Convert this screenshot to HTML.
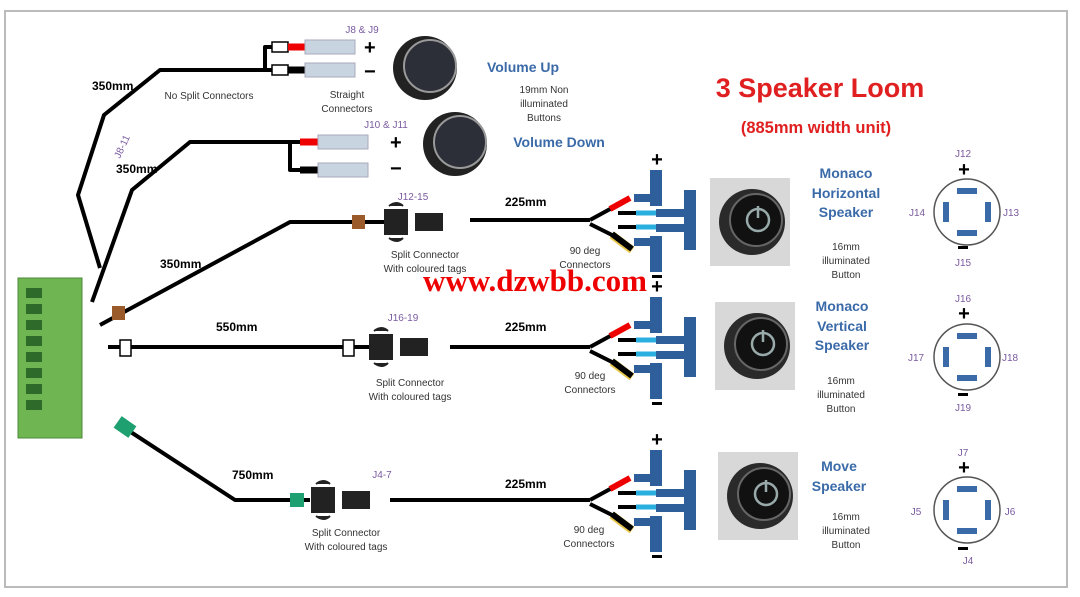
<!DOCTYPE html>
<html><head><meta charset="utf-8"><style>
body{margin:0;background:#fff;}
svg{display:block;font-family:"Liberation Sans",sans-serif;}
</style></head><body>
<svg width="1080" height="597" viewBox="0 0 1080 597" xmlns="http://www.w3.org/2000/svg">
<defs>
<g id="fan">
 <line x1="-10" y1="0" x2="12" y2="0" stroke="#000" stroke-width="4"/>
 <line x1="12" y1="0" x2="34" y2="-12" stroke="#000" stroke-width="4"/>
 <line x1="32" y1="-11" x2="52" y2="-22" stroke="#e00" stroke-width="6"/>
 <line x1="40" y1="-7" x2="58" y2="-7" stroke="#000" stroke-width="4"/>
 <line x1="58" y1="-7" x2="80" y2="-7" stroke="#2ab0e0" stroke-width="5"/>
 <line x1="40" y1="7" x2="58" y2="7" stroke="#000" stroke-width="4"/>
 <line x1="58" y1="7" x2="80" y2="7" stroke="#2ab0e0" stroke-width="5"/>
 <line x1="12" y1="4" x2="34" y2="15" stroke="#000" stroke-width="4"/>
 <line x1="34" y1="15" x2="54" y2="30" stroke="#e8c84a" stroke-width="8"/>
 <line x1="34" y1="14" x2="54" y2="29" stroke="#000" stroke-width="6"/>
 <g fill="#2f5f9a">
  <rect x="72" y="-50" width="12" height="36"/><rect x="56" y="-26" width="28" height="8"/>
  <rect x="106" y="-30" width="12" height="60"/><rect x="78" y="-11" width="40" height="8"/><rect x="78" y="4" width="40" height="8"/>
  <rect x="72" y="16" width="12" height="36"/><rect x="56" y="18" width="28" height="8"/>
 </g>
 <text x="79" y="-54" font-size="20" font-weight="bold" text-anchor="middle">+</text>
 <rect x="74" y="55" width="10" height="3" fill="#000"/>
</g>
<g id="btn">
 <rect x="0" y="0" width="80" height="88" fill="#d8d8d8"/>
 <circle cx="42" cy="44" r="33" fill="#2a2a2a"/>
 <circle cx="46" cy="42" r="26" fill="#111" stroke="#666" stroke-width="2"/>
 <circle cx="48" cy="42" r="11" fill="none" stroke="#9aa" stroke-width="2.5"/>
 <line x1="48" y1="28" x2="48" y2="40" stroke="#9aa" stroke-width="2.5"/>
</g>
<g id="pin">
 <circle cx="0" cy="0" r="33" fill="#fff" stroke="#555" stroke-width="1.5"/>
 <g fill="#3a6aa8"><rect x="-10" y="-24" width="20" height="6"/><rect x="-10" y="18" width="20" height="6"/><rect x="-24" y="-10" width="6" height="20"/><rect x="18" y="-10" width="6" height="20"/></g>
</g>
<g id="spl">
 <path d="M0 -12 h22 v24 h-22z M4 -16 q8 -6 14 0 M4 16 q8 6 14 0" fill="#222" stroke="#222" stroke-width="2"/>
 <rect x="30" y="-9" width="28" height="18" fill="#222"/>
</g>
</defs>
<rect x="5" y="11" width="1062" height="576" fill="#fff" stroke="#bbb" stroke-width="2"/>

<rect x="18" y="278" width="64" height="160" fill="#6fb552" stroke="#4d8a3a"/>
<g fill="#2e6b2a">
 <rect x="26" y="288" width="16" height="10"/><rect x="26" y="304" width="16" height="10"/><rect x="26" y="320" width="16" height="10"/><rect x="26" y="336" width="16" height="10"/><rect x="26" y="352" width="16" height="10"/><rect x="26" y="368" width="16" height="10"/><rect x="26" y="384" width="16" height="10"/><rect x="26" y="400" width="16" height="10"/>
</g>

<g fill="none" stroke="#000" stroke-width="4" stroke-linejoin="round">
 <polyline points="100,268 78,195 104,115 160,70 272,70"/>
 <polyline points="265,70 265,47 275,47"/>
 <polyline points="92,302 132,190 190,142 300,142"/>
 <polyline points="290,142 290,170 300,170"/>
 <polyline points="100,325 290,222 385,222"/>
 <line x1="470" y1="220" x2="582" y2="220"/>
 <line x1="108" y1="347" x2="370" y2="347"/>
 <line x1="450" y1="347" x2="582" y2="347"/>
 <polyline points="120,425 235,500 310,500"/>
 <line x1="390" y1="500" x2="582" y2="500"/>
</g>
<g fill="#fff" stroke="#000" stroke-width="1.5">
 <rect x="272" y="42" width="16" height="10"/><rect x="272" y="65" width="16" height="10"/>
 <rect x="120" y="340" width="11" height="16"/><rect x="343" y="340" width="11" height="16"/>
</g>
<rect x="352" y="215" width="13" height="14" fill="#9a5a2a"/>
<rect x="112" y="306" width="13" height="14" fill="#9a5a2a"/>
<rect x="290" y="493" width="14" height="14" fill="#1ea070"/>
<rect x="116" y="420" width="18" height="14" fill="#1ea070" transform="rotate(35 125 427)"/>
<line x1="288" y1="47" x2="305" y2="47" stroke="#e00" stroke-width="7"/>
<line x1="288" y1="70" x2="305" y2="70" stroke="#000" stroke-width="7"/>
<line x1="300" y1="142" x2="318" y2="142" stroke="#e00" stroke-width="7"/>
<line x1="300" y1="170" x2="318" y2="170" stroke="#000" stroke-width="7"/>
<g fill="#c8d4e0" stroke="#aab"><rect x="305" y="40" width="50" height="14"/><rect x="305" y="63" width="50" height="14"/><rect x="318" y="135" width="50" height="14"/><rect x="318" y="163" width="50" height="14"/></g>
<g font-size="20" font-weight="bold"><text x="364" y="54">+</text><text x="364" y="78">−</text><text x="390" y="149">+</text><text x="390" y="175">−</text></g>
<circle cx="425" cy="68" r="32" fill="#222"/><circle cx="430" cy="66" r="26" fill="#2c2f38" stroke="#999" stroke-width="2"/>
<circle cx="455" cy="144" r="32" fill="#222"/><circle cx="460" cy="142" r="26" fill="#2c2f38" stroke="#999" stroke-width="2"/>

<use href="#spl" x="385" y="222"/>
<use href="#spl" x="370" y="347"/>
<use href="#spl" x="312" y="500"/>

<use href="#fan" x="578" y="220"/>
<use href="#fan" x="578" y="347"/>
<use href="#fan" x="578" y="500"/>

<use href="#btn" x="710" y="178"/>
<use href="#btn" x="715" y="302"/>
<use href="#btn" x="718" y="452"/>

<use href="#pin" x="967" y="212"/>
<use href="#pin" x="967" y="357"/>
<use href="#pin" x="967" y="510"/>

<g font-size="12" font-weight="bold">
 <text x="92" y="90">350mm</text><text x="116" y="173">350mm</text><text x="160" y="268">350mm</text>
 <text x="216" y="331">550mm</text><text x="232" y="479">750mm</text>
 <text x="505" y="206">225mm</text><text x="505" y="331">225mm</text><text x="505" y="488">225mm</text>
</g>
<g font-size="10" fill="#333" text-anchor="middle">
 <text x="209" y="99">No Split Connectors</text>
 <text x="347" y="98">Straight</text><text x="347" y="112">Connectors</text>
 <text x="544" y="93">19mm Non</text><text x="544" y="107">illuminated</text><text x="544" y="121">Buttons</text>
 <text x="425" y="258">Split Connector</text><text x="425" y="272">With coloured tags</text>
 <text x="410" y="386">Split Connector</text><text x="410" y="400">With coloured tags</text>
 <text x="346" y="536">Split Connector</text><text x="346" y="550">With coloured tags</text>
 <text x="585" y="254">90 deg</text><text x="585" y="268">Connectors</text>
 <text x="590" y="379">90 deg</text><text x="590" y="393">Connectors</text>
 <text x="589" y="533">90 deg</text><text x="589" y="547">Connectors</text>
 <text x="846" y="250">16mm</text><text x="846" y="264">illuminated</text><text x="846" y="278">Button</text>
 <text x="841" y="384">16mm</text><text x="841" y="398">illuminated</text><text x="841" y="412">Button</text>
 <text x="846" y="520">16mm</text><text x="846" y="534">illuminated</text><text x="846" y="548">Button</text>
</g>
<g font-size="10" fill="#7a5aa0" text-anchor="middle">
 <text x="362" y="33">J8 &amp; J9</text><text x="386" y="128">J10 &amp; J11</text>
 <text x="413" y="200">J12-15</text><text x="403" y="321">J16-19</text><text x="382" y="478">J4-7</text>
 <text x="125" y="148" transform="rotate(-65 125 148)">J8-11</text>
 <text x="963" y="157">J12</text><text x="963" y="266">J15</text><text x="917" y="216">J14</text><text x="1011" y="216">J13</text>
 <text x="963" y="302">J16</text><text x="963" y="411">J19</text><text x="916" y="361">J17</text><text x="1010" y="361">J18</text>
 <text x="963" y="456">J7</text><text x="968" y="564">J4</text><text x="916" y="515">J5</text><text x="1010" y="515">J6</text>
</g>
<g font-size="20" font-weight="bold" text-anchor="middle">
 <text x="964" y="176">+</text><text x="964" y="320">+</text><text x="964" y="474">+</text>
</g>
<g fill="#000"><rect x="958" y="246" width="10" height="3"/><rect x="958" y="393" width="10" height="3"/><rect x="958" y="547" width="10" height="3"/></g>
<g font-size="14" font-weight="bold" fill="#3a6aa8" text-anchor="middle">
 <text x="523" y="72">Volume Up</text><text x="559" y="147">Volume Down</text>
 <text x="846" y="178">Monaco</text><text x="846" y="198">Horizontal</text><text x="846" y="217">Speaker</text>
 <text x="842" y="311">Monaco</text><text x="842" y="331">Vertical</text><text x="842" y="350">Speaker</text>
 <text x="839" y="471">Move</text><text x="839" y="491">Speaker</text>
</g>
<text x="820" y="97" font-size="27" font-weight="bold" fill="#e02020" text-anchor="middle">3 Speaker Loom</text>
<text x="816" y="133" font-size="16.5" font-weight="bold" fill="#e02020" text-anchor="middle">(885mm width unit)</text>
<text x="423" y="291" font-family="Liberation Serif,serif" font-size="31" font-weight="bold" fill="#e00">www.dzwbb.com</text>
</svg>
</body></html>
